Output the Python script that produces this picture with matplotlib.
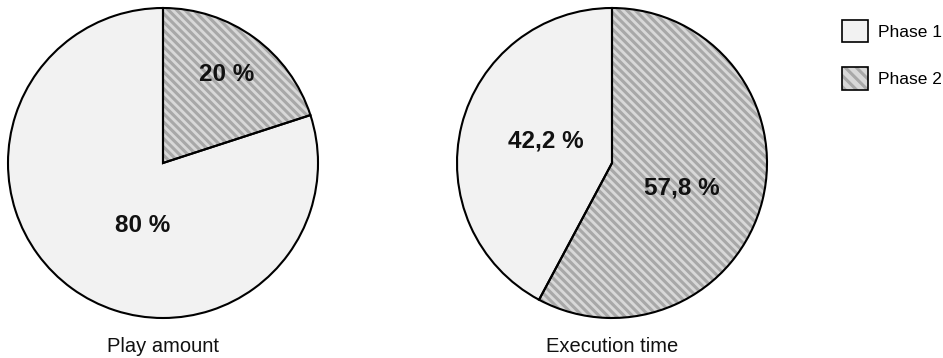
import matplotlib
matplotlib.use("Agg")
import matplotlib.pyplot as plt
from matplotlib.patches import Patch
from matplotlib.legend_handler import HandlerTuple

plt.rcParams["font.family"] = ["Liberation Sans", "DejaVu Sans"]
plt.rcParams["hatch.linewidth"] = 2.2

# data
PHASES = ["Phase 1", "Phase 2"]
PLAY_AMOUNT = [80.0, 20.0]
EXEC_TIME = [42.2, 57.8]
PLAY_LABELS = ["80 %", "20 %"]
EXEC_LABELS = ["42,2 %", "57,8 %"]

C_P1, C_P2, C_HATCH = "#f2f2f2", "#d8d8d8", "#a8a8a8"
HATCH = "\\\\\\\\"

fig = plt.figure(figsize=(9.43, 3.58), dpi=100)
W, H = 943, 358


def pie_axes(x0, y0, d):
    return fig.add_axes([x0 / W, 1 - (y0 + d) / H, d / W, d / H])


def draw_pie(ax, vals, labels, label_pos, title):
    # filled + hatched layer (hatch takes edge colour)
    w1, _ = ax.pie(vals, colors=[C_P1, C_P2], startangle=90, counterclock=True,
                   radius=1, wedgeprops=dict(edgecolor=C_HATCH, linewidth=0))
    w1[1].set_hatch(HATCH)
    # outline layer
    w2, _ = ax.pie(vals, colors=["none", "none"], startangle=90, counterclock=True,
                   radius=1, wedgeprops=dict(edgecolor="black", linewidth=1.5, fill=False))
    for w in w2:
        w.set_clip_on(False)
    for txt, (x, y) in zip(labels, label_pos):
        ax.text(x, y, txt, ha="center", va="center", fontsize=17.5,
                fontweight="bold", color="#111111")
    ax.set_xlim(-1.0, 1.0)
    ax.set_ylim(-1.0, 1.0)
    ax.set_aspect("equal")
    ax.text(0, -1.22, title, ha="center", va="baseline", fontsize=14.5, color="#111111")


ax1 = pie_axes(8, 8, 310)
draw_pie(ax1, PLAY_AMOUNT, PLAY_LABELS, [(-0.13, -0.40), (0.41, 0.57)], "Play amount")
ax2 = pie_axes(457, 8, 310)
draw_pie(ax2, EXEC_TIME, EXEC_LABELS, [(-0.43, 0.14), (0.45, -0.16)], "Execution time")

h1 = Patch(facecolor=C_P1, edgecolor="black", linewidth=1.2)
h2_fill = Patch(facecolor=C_P2, edgecolor=C_HATCH, linewidth=0, hatch="\\\\\\")
h2_edge = Patch(facecolor="none", edgecolor="black", linewidth=1.2)
leg = fig.legend([h1, (h2_fill, h2_edge)], PHASES, loc="upper left",
                 bbox_to_anchor=(842 / W, 1 - 20 / H),
                 handler_map={tuple: HandlerTuple(ndivide=1, pad=0)},
                 frameon=False, fontsize=12.5, handlelength=1.5, handleheight=1.6,
                 labelspacing=1.45, handletextpad=0.6, borderpad=0, borderaxespad=0)

fig.savefig("out.png", dpi=100)
